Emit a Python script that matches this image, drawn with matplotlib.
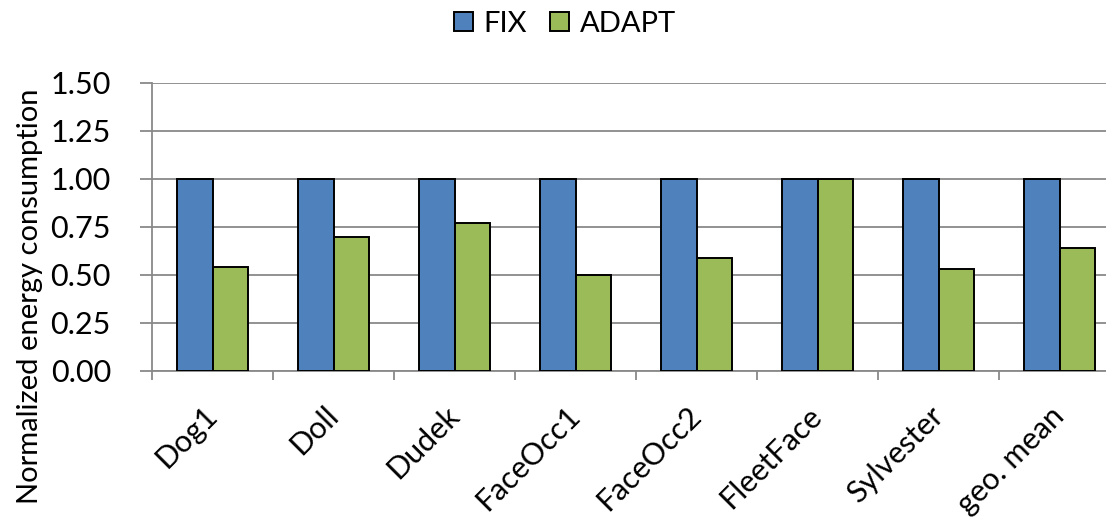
import numpy as np
import matplotlib.pyplot as plt
from matplotlib.ticker import FixedLocator

# Datos: consumo de energía normalizado por secuencia
categories = ['Dog1', 'Doll', 'Dudek', 'FaceOcc1', 'FaceOcc2', 'FleetFace', 'Sylvester', 'geo. mean']
fix_values = [1.00, 1.00, 1.00, 1.00, 1.00, 1.00, 1.00, 1.00]
adapt_values = [0.54, 0.70, 0.77, 0.50, 0.59, 1.00, 0.53, 0.64]
y_ticks = [0.00, 0.25, 0.50, 0.75, 1.00, 1.25, 1.50]

plt.rcParams['font.family'] = ['Lato', 'DejaVu Sans']

W, H = 1106, 520
fig = plt.figure(figsize=(W / 100, H / 100), dpi=100)
# El área del gráfico se sale un poco por la derecha
ax = fig.add_axes([152 / W, 1 - 371 / H, 968 / W, (371 - 83) / H])

grid_color = '#898989'
x = np.arange(len(categories))
w = 0.29
ax.bar(x - w / 2, fix_values, w, color='#4f81bd', edgecolor='black', linewidth=1.4,
       label='FIX', zorder=3)
ax.bar(x + w / 2, adapt_values, w, color='#9bbb59', edgecolor='black', linewidth=1.4,
       label='ADAPT', zorder=3)

ax.set_xlim(-0.5, len(categories) - 0.5)
ax.set_ylim(0, 1.5)
ax.set_yticks(y_ticks)
ax.set_yticklabels([f'{v:.2f}' for v in y_ticks], fontsize=22)
ax.yaxis.grid(True, color=grid_color, linewidth=1.3, zorder=0)

# Etiquetas inclinadas (las más largas quedan cortadas abajo)
ax.set_xticks(x)
ax.set_xticklabels(categories, fontsize=22, rotation=45, ha='right',
                   va='center', rotation_mode='anchor')
ax.xaxis.set_minor_locator(FixedLocator(np.arange(len(categories) + 1) - 0.5))
ax.tick_params(axis='x', which='major', length=0, pad=29)
ax.tick_params(axis='x', which='minor', length=6.5, width=1.3, color=grid_color)
ax.tick_params(axis='y', length=8.6, width=1.3, color=grid_color, pad=21)

for s in ['top', 'right']:
    ax.spines[s].set_visible(False)
for s in ['left', 'bottom']:
    ax.spines[s].set_color(grid_color)
    ax.spines[s].set_linewidth(1.3)

fig.text(30 / W, 1 - 296 / H, 'Normalized energy consumption', rotation=90,
         fontsize=21, ha='center', va='center')

fig.legend(loc='center', bbox_to_anchor=(565 / W, 1 - 24 / H), ncol=2, frameon=False,
           fontsize=21, handlelength=0.65, handleheight=0.65, handletextpad=0.35,
           columnspacing=0.8)

fig.savefig('out.png', dpi=100)
